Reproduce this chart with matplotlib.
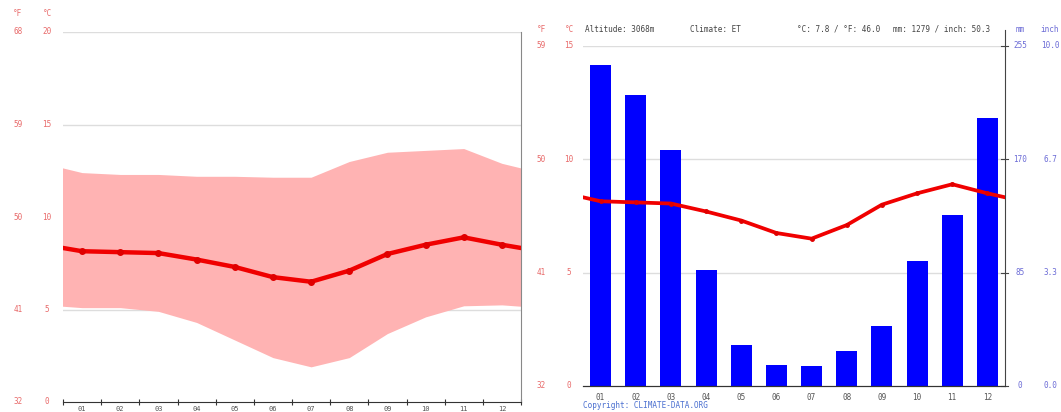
import numpy as np
import matplotlib.pyplot as plt
from matplotlib.transforms import blended_transform_factory

# monthly climate values
months = ['01', '02', '03', '04', '05', '06', '07', '08', '09', '10', '11', '12']
temp_mean = [8.15, 8.1, 8.05, 7.7, 7.3, 6.75, 6.5, 7.1, 8.0, 8.5, 8.9, 8.5]
temp_max = [12.4, 12.3, 12.3, 12.2, 12.2, 12.15, 12.15, 13.0, 13.5, 13.6, 13.7, 12.9]
temp_min = [5.1, 5.1, 4.9, 4.3, 3.35, 2.4, 1.9, 2.4, 3.7, 4.6, 5.2, 5.25]
precip_mm = [241, 218, 177, 87, 31, 16, 15, 26, 45, 94, 128, 201]

c_ticks = [0, 5, 10, 15, 20]
f_labels = ['32', '41', '50', '59', '68']
mm_ticks = [0, 85, 170, 255]
inch_labels = ['0.0', '3.3', '6.7', '10.0']

RED_TXT = '#e86a6a'
BLUE_TXT = '#6b6bd6'
GRID = '#dddddd'
W, H = 1061, 412


def wrap(vals):
    # add Dec before Jan and Jan after Dec so the curves run to the edges
    return np.r_[vals[-1], vals, vals[0]]


x = np.arange(12) + 0.5
xw = np.r_[-0.5, x, 12.5]

fig = plt.figure(figsize=(W / 100, H / 100), dpi=100)
mono = 'DejaVu Sans Mono'

# ---- left: temperature range ----
ax = fig.add_axes([63 / W, 10 / H, 458 / W, 370 / H])
ax.fill_between(xw, wrap(temp_min), wrap(temp_max), color='#ffb3b3', lw=0, zorder=1)
ax.plot(xw, wrap(temp_mean), color='#f00000', lw=3.2, zorder=3, solid_capstyle='butt')
ax.plot(x, temp_mean, 'o', color='#e00000', ms=4, zorder=4)
ax.set_xlim(0, 12)
ax.set_ylim(0, 20)
for c in c_ticks[1:]:
    ax.axhline(c, color=GRID, lw=1, zorder=0)
for s in ['left', 'top']:
    ax.spines[s].set_visible(False)
ax.spines['right'].set_color('#888888')
ax.spines['bottom'].set_color('#333333')
ax.set_yticks([])
ax.set_xticks(np.arange(13), minor=False)
ax.set_xticklabels([])
ax.tick_params(axis='x', direction='inout', length=4, color='#333333')
for xi, m in zip(x, months):
    ax.text(xi, -0.22, m, ha='center', va='top', fontsize=5,
            color='#555555', family=mono, clip_on=False)
tr = blended_transform_factory(fig.transFigure, ax.transData)
for c, f in zip(c_ticks, f_labels):
    ax.text(18 / W, c, f, transform=tr, ha='center', va='center', fontsize=5.5, color=RED_TXT, family=mono)
    ax.text(47 / W, c, str(c), transform=tr, ha='center', va='center', fontsize=5.5, color=RED_TXT, family=mono)
fig.text(18 / W, 1 - 13 / H, '°F', ha='center', va='center', fontsize=5.5, color=RED_TXT, family=mono)
fig.text(47 / W, 1 - 13 / H, '°C', ha='center', va='center', fontsize=5.5, color=RED_TXT, family=mono)

# ---- right: precipitation and temperature ----
ax2 = fig.add_axes([583 / W, 26 / H, 422 / W, 340 / H])
axp = ax2.twinx()
axp.bar(x, precip_mm, width=0.6, color='#0000ff', zorder=2)
axp.set_ylim(0, 255)
ax2.set_zorder(axp.get_zorder() + 1)
ax2.patch.set_visible(False)
ax2.plot(xw, wrap(temp_mean), color='#f00000', lw=2.7, zorder=3)
ax2.plot(x, temp_mean, 'o', color='#e00000', ms=2.5, zorder=4)
ax2.set_xlim(0, 12)
ax2.set_ylim(0, 15)
for c in c_ticks[1:4]:
    axp.axhline(c / 15 * 255, color=GRID, lw=1, zorder=0)
for a in (ax2, axp):
    for s in ['left', 'top', 'right']:
        a.spines[s].set_visible(False)
    a.spines['bottom'].set_color('#333333')
    a.set_yticks([])
axp.spines['right'].set_visible(True)
axp.spines['right'].set_color('#444444')
axp.spines['right'].set_bounds(0, 267)
ax2.set_xticks(np.arange(13))
ax2.set_xticklabels([])
ax2.tick_params(axis='x', direction='inout', length=4, color='#333333')
axp.set_xticks([])
for xi, m in zip(x, months):
    ax2.text(xi, -0.3, m, ha='center', va='top', fontsize=5.5,
             color='#555555', family=mono, clip_on=False)
tr2 = blended_transform_factory(fig.transFigure, ax2.transData)
for c, f in zip(c_ticks[:4], f_labels[:4]):
    ax2.text(541 / W, c, f, transform=tr2, ha='center', va='center', fontsize=5.5, color=RED_TXT, family=mono)
    ax2.text(569 / W, c, str(c), transform=tr2, ha='center', va='center', fontsize=5.5, color=RED_TXT, family=mono)
trp = blended_transform_factory(fig.transFigure, axp.transData)
for mm, inch in zip(mm_ticks, inch_labels):
    axp.plot([1001 / W, 1008 / W], [mm, mm], transform=trp, color='#444444', lw=0.8, clip_on=False)
    axp.text(1020 / W, mm, str(mm), transform=trp, ha='center', va='center', fontsize=5.5, color=BLUE_TXT, family=mono)
    axp.text(1050 / W, mm, inch, transform=trp, ha='center', va='center', fontsize=5.5, color=BLUE_TXT, family=mono)

top = 1 - 29 / H
fig.text(541 / W, top, '°F', ha='center', va='center', fontsize=5.5, color=RED_TXT, family=mono)
fig.text(569 / W, top, '°C', ha='center', va='center', fontsize=5.5, color=RED_TXT, family=mono)
fig.text(1020 / W, top, 'mm', ha='center', va='center', fontsize=5.5, color=BLUE_TXT, family=mono)
fig.text(1050 / W, top, 'inch', ha='center', va='center', fontsize=5.5, color=BLUE_TXT, family=mono)
avg_c = np.mean(temp_mean)
total_mm = sum(precip_mm)
total_in = int(total_mm / 25.4 * 10) / 10
fig.text(585 / W, top, 'Altitude: 3068m', ha='left', va='center', fontsize=5.5, color='#444444', family=mono)
fig.text(690 / W, top, 'Climate: ET', ha='left', va='center', fontsize=5.5, color='#444444', family=mono)
fig.text(797 / W, top, '°C: %.1f / °F: %.1f' % (avg_c, avg_c * 9 / 5 + 32),
         ha='left', va='center', fontsize=5.5, color='#444444', family=mono)
fig.text(893 / W, top, 'mm: %d / inch: %.1f' % (total_mm, total_in),
         ha='left', va='center', fontsize=5.5, color='#444444', family=mono)
fig.text(583 / W, 1 - 405 / H, 'Copyright: CLIMATE-DATA.ORG', ha='left', va='center',
         fontsize=5.5, color='#4a6fd0', family=mono)

fig.savefig('out.png', dpi=100)
